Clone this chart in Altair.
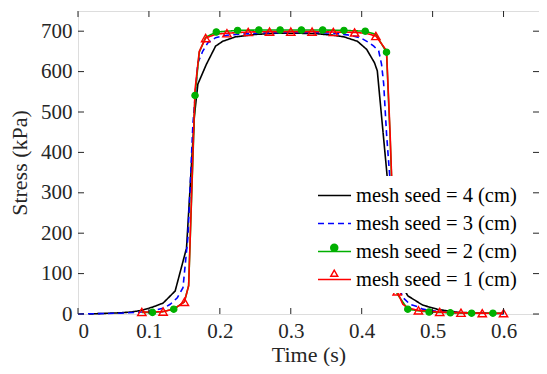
import altair as alt
import pandas as pd

series_names = ["mesh seed = 4 (cm)", "mesh seed = 3 (cm)", "mesh seed = 2 (cm)", "mesh seed = 1 (cm)"]
colors = ["#000000", "#0000ff", "#00b000", "#ff0000"]
dashes = [[1, 0], [6, 4], [1, 0], [1, 0]]
# marker keys (same order as series_names) and their marker styles
marker_keys = ["4", "3", "2", "1"]
marker_shapes = ["circle", "circle", "circle", "triangle-up"]
marker_strokes = ["transparent", "transparent", "#00b000", "#ff0000"]
marker_fills = ["transparent", "transparent", "#00b000", "transparent"]

x_ticks = [0, 0.1, 0.2, 0.3, 0.4, 0.5, 0.6]
y_ticks = [0, 100, 200, 300, 400, 500, 600, 700]

# mesh seed = 4 (black)
t4 = [0.015, 0.03, 0.06, 0.075, 0.09, 0.105, 0.12, 0.137, 0.153, 0.164, 0.169, 0.181, 0.194, 0.204, 0.222,
      0.25, 0.28, 0.31, 0.335, 0.36, 0.375, 0.394, 0.407, 0.418, 0.422, 0.435, 0.44, 0.447, 0.452, 0.465,
      0.486, 0.508, 0.537, 0.57, 0.6]
s4 = [0, 1, 3, 5, 9, 17, 27, 57, 163, 488, 569, 618, 663, 675, 686,
      692, 695, 695, 694, 690, 686, 675, 655, 622, 602, 358, 260, 122, 85, 45,
      22, 11, 4, 2, 1]

# mesh seed = 3 (blue dashed)
t3 = [0, 0.03, 0.06, 0.09, 0.105, 0.12, 0.13, 0.14, 0.148, 0.155, 0.162, 0.169, 0.176, 0.183, 0.194,
      0.21, 0.24, 0.27, 0.3, 0.33, 0.36, 0.38, 0.398, 0.41, 0.417, 0.424, 0.428, 0.431, 0.435, 0.44,
      0.447, 0.452, 0.458, 0.468, 0.479, 0.486, 0.509, 0.537, 0.57, 0.6]
s3 = [0, 1, 2, 5, 8, 14, 24, 40, 65, 190, 470, 622, 651, 671, 684,
      690, 694, 696, 697, 697, 695, 691, 684, 672, 663, 651, 618, 570, 447, 330,
      114, 70, 41, 24, 18, 12, 6, 3, 2, 1]

# mesh seed = 2 (green) line and markers
t2 = [0.09, 0.105, 0.12, 0.135, 0.15, 0.156, 0.165, 0.171, 0.18, 0.195, 0.225, 0.255, 0.285, 0.315,
      0.345, 0.375, 0.405, 0.42, 0.435, 0.44, 0.447, 0.45, 0.465, 0.48, 0.495, 0.525, 0.555, 0.585, 0.6]
s2 = [4, 4, 6, 12, 30, 70, 541, 648, 685, 698, 702, 703, 703, 703,
      703, 702, 700, 692, 648, 440, 100, 50, 12, 8, 5, 3, 2, 2, 2]
tm2 = [0.105, 0.135, 0.165, 0.195, 0.225, 0.255, 0.285, 0.315, 0.345, 0.375, 0.405, 0.435,
       0.465, 0.495, 0.525, 0.555, 0.585]
sm2 = [4, 12, 541, 698, 702, 703, 703, 703, 703, 702, 700, 648, 12, 5, 3, 2, 2]

# mesh seed = 1 (red) line and markers
t1 = [0.09, 0.105, 0.12, 0.135, 0.15, 0.156, 0.165, 0.171, 0.18, 0.195, 0.21, 0.24, 0.27, 0.3, 0.33,
      0.36, 0.39, 0.405, 0.42, 0.435, 0.44, 0.447, 0.45, 0.458, 0.465, 0.48, 0.51, 0.54, 0.57, 0.6]
s1 = [5, 5, 6, 12, 30, 70, 555, 650, 683, 693, 695, 698, 699, 699, 699,
      698, 697, 695, 688, 652, 450, 100, 56, 24, 15, 9, 5, 3, 2, 2]
tm1 = [0.09, 0.12, 0.15, 0.18, 0.21, 0.24, 0.27, 0.3, 0.33, 0.36, 0.39, 0.42, 0.45, 0.48, 0.51,
       0.54, 0.57, 0.6]
sm1 = [5, 6, 30, 683, 695, 698, 699, 699, 699, 698, 697, 688, 56, 9, 5, 3, 2, 2]

rows = []
for name, ts, ss in zip(series_names, [t4, t3, t2, t1], [s4, s3, s2, s1]):
    for t, s in zip(ts, ss):
        rows.append({"series": name, "t": t, "s": s})
df = pd.DataFrame(rows)
df_g = pd.DataFrame({"t": tm2, "s": sm2, "mk": ["2"] * len(tm2)})
df_r = pd.DataFrame({"t": tm1, "s": sm1, "mk": ["1"] * len(tm1)})

W, H = 461, 303
FONT = "Liberation Serif"
TXT = "#262626"
x_scale = alt.Scale(domain=[0, 0.65], nice=False, zero=False)
y_scale = alt.Scale(domain=[0, 750], nice=False)

line_legend = alt.Legend(
    title=None, orient="none", legendX=237, legendY=165, padding=2, zindex=0,
    fillColor="white", strokeColor="white",
    labelFont=FONT, labelFontSize=20.5, labelColor="black", labelOffset=4, labelLimit=400,
    symbolType="stroke", symbolSize=1089, symbolStrokeWidth=1.6, rowPadding=-19, symbolOpacity=1,
)
# second legend that only adds the series markers on top of the line symbols
marker_legend = alt.Legend(
    title=None, orient="none", legendX=246, legendY=175.5, padding=0, zindex=1,
    labelFont=FONT, labelFontSize=20.5, labelOpacity=0, labelOffset=4, labelExpr="' '",
    symbolSize=50, symbolStrokeWidth=1.4, rowPadding=4.5, symbolOpacity=1,
)

axis_common = dict(ticks=False, domain=False, grid=False,
                   labelFont=FONT, labelFontSize=21, labelColor=TXT,
                   titleFont=FONT, titleFontSize=22, titleFontWeight="normal", titleColor=TXT)

lines = alt.Chart(df).mark_line(strokeWidth=1.6).encode(
    x=alt.X("t:Q", scale=x_scale,
            axis=alt.Axis(title="Time (s)", values=x_ticks, format="~g", labelPadding=6, titlePadding=3,
                          **axis_common)),
    y=alt.Y("s:Q", scale=y_scale,
            axis=alt.Axis(title="Stress (kPa)", values=y_ticks, labelPadding=6, titlePadding=9,
                          **axis_common)),
    color=alt.Color("series:N", scale=alt.Scale(domain=series_names, range=colors), sort=series_names,
                    legend=line_legend),
    strokeDash=alt.StrokeDash("series:N", scale=alt.Scale(domain=series_names, range=dashes), sort=series_names,
                              legend=line_legend),
)

mk_enc = dict(
    x=alt.X("t:Q", scale=x_scale), y=alt.Y("s:Q", scale=y_scale),
    shape=alt.Shape("mk:N", scale=alt.Scale(domain=marker_keys, range=marker_shapes), sort=marker_keys,
                    legend=marker_legend),
    stroke=alt.Stroke("mk:N", scale=alt.Scale(domain=marker_keys, range=marker_strokes), sort=marker_keys,
                      legend=marker_legend),
    fill=alt.Fill("mk:N", scale=alt.Scale(domain=marker_keys, range=marker_fills), sort=marker_keys,
                  legend=marker_legend),
)
green_pts = alt.Chart(df_g).mark_point(size=40, strokeWidth=1.2, opacity=1).encode(**mk_enc)
red_pts = alt.Chart(df_r).mark_point(size=70, strokeWidth=1.4, opacity=1).encode(**mk_enc)

xt = pd.DataFrame({"t": x_ticks})
yt = pd.DataFrame({"s": y_ticks})
tick_b = alt.Chart(xt).mark_rule(color=TXT, strokeWidth=1).encode(
    x=alt.X("t:Q", scale=x_scale), y=alt.value(H), y2=alt.value(H - 6))
tick_t = alt.Chart(xt).mark_rule(color=TXT, strokeWidth=1).encode(
    x=alt.X("t:Q", scale=x_scale), y=alt.value(0), y2=alt.value(6))
tick_l = alt.Chart(yt).mark_rule(color=TXT, strokeWidth=1).encode(
    y=alt.Y("s:Q", scale=y_scale), x=alt.value(0), x2=alt.value(6))
tick_r = alt.Chart(yt).mark_rule(color=TXT, strokeWidth=1).encode(
    y=alt.Y("s:Q", scale=y_scale), x=alt.value(W), x2=alt.value(W - 6))

chart = alt.layer(lines, green_pts, red_pts, tick_b, tick_t, tick_l, tick_r).properties(
    width=W, height=H, autosize="none",
    padding={"left": 70, "top": 3, "right": 0, "bottom": 52},
).configure_view(stroke=TXT, strokeWidth=1).configure(background="white")

chart.save("out.html", embed_options={"renderer": "svg", "actions": False})
